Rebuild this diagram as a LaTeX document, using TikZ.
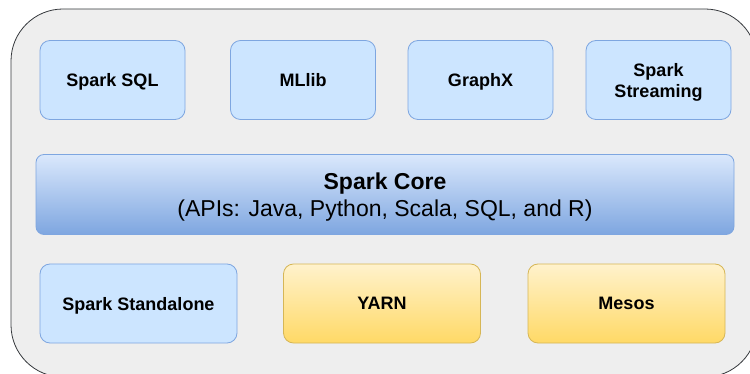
\documentclass[tikz,border=0pt]{standalone}
\usepackage{fontspec}
\setmainfont{Liberation Sans}
\definecolor{frameFill}{HTML}{EEEEEE}
\definecolor{frameLine}{HTML}{36393D}
\definecolor{blueFill}{HTML}{CCE5FF}
\definecolor{blueLine}{HTML}{7EA6E0}
\definecolor{coreTop}{HTML}{DAE8FC}
\definecolor{coreBottom}{HTML}{7EA6E0}
\definecolor{yellowTop}{HTML}{FFF2CC}
\definecolor{yellowBottom}{HTML}{FFD966}
\definecolor{yellowLine}{HTML}{D6B656}

\begin{document}
\begin{tikzpicture}
[x=1pt,y=-1pt,
  frameDecorate/.style={draw=frameLine,fill=frameFill,rounded corners=52pt,line width=0.8pt},%
  boxDecorate/.style={shape=rectangle,rounded corners=10pt,line width=0.8pt,inner sep=0pt,
    align=center,font=\fontsize{18}{21}\selectfont\bfseries,minimum height=79pt,text depth=0pt},%
  blueDecorate/.style={boxDecorate,draw=blueLine,fill=blueFill},%
  yellowDecorate/.style={boxDecorate,draw=yellowLine,top color=yellowTop,bottom color=yellowBottom},%
  coreDecorate/.style={boxDecorate,rounded corners=8pt,draw=blueLine,top color=coreTop,
    bottom color=coreBottom,minimum width=698pt,minimum height=80pt,
    font=\fontsize{23}{27}\selectfont}]
\useasboundingbox (0,0) rectangle (750,374);
\clip (0,0) rectangle (750,374);
%% outer frame
\draw[frameDecorate] (11,9) rectangle (757,377);
%% libraries on top
\foreach \nodename/\x/\nodetext in {
  sql/112.5/{Spark SQL}, mllib/303/{MLlib}, graphx/480.5/{GraphX},
  streaming/658.5/{Spark\\Streaming}}
{
  \node (\nodename) at (\x,80) [blueDecorate,minimum width=145pt] {\nodetext};
}
%% core
\node (core) at (385,194.5) [coreDecorate]
  {\textbf{Spark Core}\\(APIs: Java, Python, Scala, SQL, and R)};
%% cluster managers
\node (standalone) at (138.5,303.5) [blueDecorate,minimum width=197pt] {Spark Standalone};
\foreach \nodename/\x/\nodetext in {yarn/382/YARN, mesos/626.5/Mesos}
{
  \node (\nodename) at (\x,303.5) [yellowDecorate,minimum width=197pt] {\nodetext};
}
\end{tikzpicture}
\end{document}
